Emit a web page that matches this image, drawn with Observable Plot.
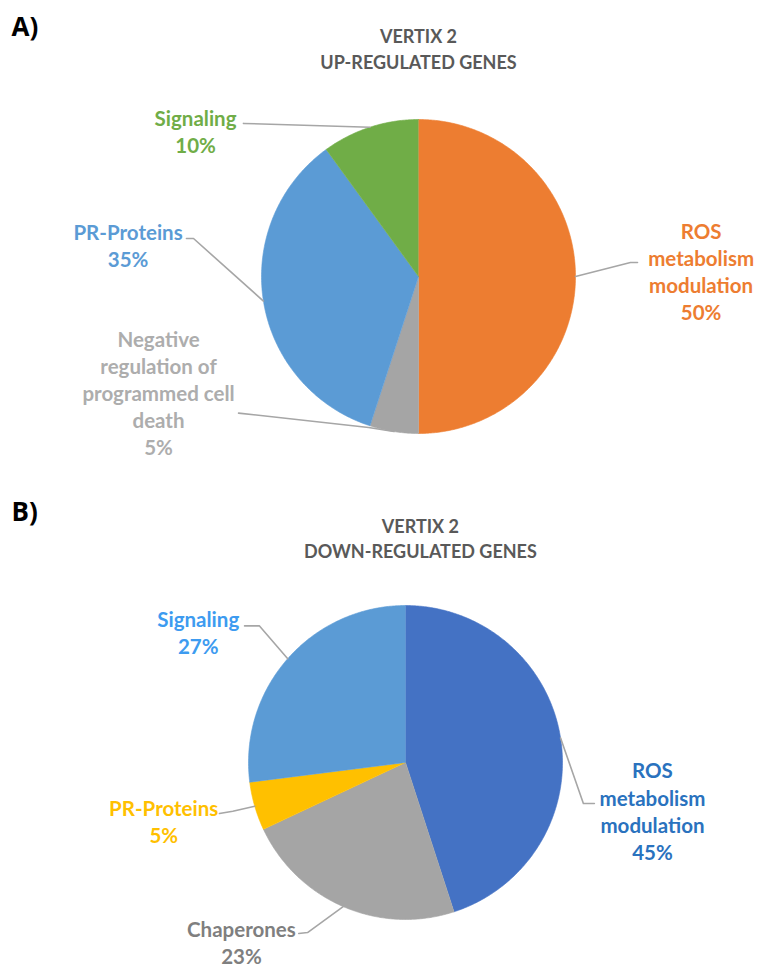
<!DOCTYPE html>
<html>
<head>
<meta charset="utf-8">
<script src="https://cdn.jsdelivr.net/npm/d3@7"></script>
<script src="https://cdn.jsdelivr.net/npm/@observablehq/plot@0.6"></script>
<style>
  body { margin: 0; background: #fff; width: 776px; }
  #chart svg { display: block; }
</style>
</head>
<body>
<div id="chart"></div>
<script>
// Panel A: up-regulated genes (slices clockwise from 12 o'clock)
const upCategories = ["ROS metabolism modulation", "Negative regulation of programmed cell death", "PR-Proteins", "Signaling"];
const upValues = [50, 5, 35, 10];
const upLabelLines = [["ROS", "metabolism", "modulation"], ["Negative", "regulation of", "programmed cell", "death"], ["PR-Proteins"], ["Signaling"]];

// Panel B: down-regulated genes
const downCategories = ["ROS metabolism modulation", "Chaperones", "PR-Proteins", "Signaling"];
const downValues = [45, 23, 5, 27];
const downLabelLines = [["ROS", "metabolism", "modulation"], ["Chaperones"], ["PR-Proteins"], ["Signaling"]];

const panelLetters = ["A)", "B)"];
const panelTitles = [["VERTIX 2", "UP-REGULATED GENES"], ["VERTIX 2", "DOWN-REGULATED GENES"]];

// Styling and layout (pie radius = 1 unit)
const panels = [
  {
    cats: upCategories, vals: upValues, lines: upLabelLines,
    fills: ["#ED7D31", "#A5A5A5", "#5B9BD5", "#70AD47"],
    text: ["#ED7D31", "#ADADAD", "#5B9BD5", "#70AD47"],
    cx: 418, cy: 276, r: 157,
    titleX: 0, titleY: 47.5,
    // label block centre and leader points (label end, elbow) in pie units
    label: [
      {x: 1.80, y: 0.035, lead: [[1.395, 0.089], [1.35, 0.089]]},
      {x: -1.656, y: -0.74, lead: [[-1.146, -0.87], [-0.318, -0.962]]},
      {x: -1.85, y: 0.20, lead: [[-1.478, 0.242], [-1.433, 0.242]]},
      {x: -1.42, y: 0.925, lead: [[-1.115, 0.975]]}
    ]
  },
  {
    cats: downCategories, vals: downValues, lines: downLabelLines,
    fills: ["#4472C4", "#A5A5A5", "#FFC000", "#5B9BD5"],
    text: ["#2A72BE", "#7F7F7F", "#FFC000", "#3D9BF0"],
    cx: 405, cy: 277, r: 157,
    titleX: 0.095, titleY: 52,
    label: [
      {x: 1.573, y: -0.305, lead: [[1.203, -0.261], [1.133, -0.261]]},
      {x: -1.045, y: -1.145, lead: [[-0.68, -1.089], [-0.624, -1.083]]},
      {x: -1.54, y: -0.37, lead: [[-1.185, -0.325], [-1.10, -0.31]]},
      {x: -1.32, y: 0.835, lead: [[-1.025, 0.87], [-0.93, 0.87]]}
    ]
  }
];

const W = 776, H = 485;
const labelFont = "Lato, 'Open Sans', sans-serif";

panels.forEach((p, pi) => {
  const arcs = d3.pie().sort(null).value(d => d)(p.vals);

  // polygon outline of each slice
  const slicePts = [];
  arcs.forEach((a, i) => {
    const n = Math.max(4, Math.ceil((a.endAngle - a.startAngle) / 0.01));
    slicePts.push({cat: p.cats[i], x: 0, y: 0});
    for (let k = 0; k <= n; k++) {
      const t = a.startAngle + (a.endAngle - a.startAngle) * k / n;
      slicePts.push({cat: p.cats[i], x: Math.sin(t), y: Math.cos(t)});
    }
  });

  const marks = [
    Plot.line(slicePts, {x: "x", y: "y", z: "cat", fill: "cat", stroke: "cat", strokeWidth: 0.6, curve: "linear"})
  ];

  arcs.forEach((a, i) => {
    const mid = (a.startAngle + a.endAngle) / 2;
    const L = p.label[i];
    const leader = [...L.lead.map(([x, y]) => ({x, y})), {x: Math.sin(mid), y: Math.cos(mid)}];
    marks.push(Plot.line(leader, {x: "x", y: "y", stroke: "#A6A6A6", strokeWidth: 1.6}));
    const txt = [...p.lines[i], `${p.vals[i]}%`].join("\n");
    marks.push(Plot.text([txt], {
      x: () => L.x, y: () => L.y, text: d => d,
      fill: p.text[i], fontSize: 20.5, fontWeight: 700, fontFamily: labelFont,
      lineHeight: 1.32, lineAnchor: "middle", textAnchor: "middle"
    }));
  });

  // panel letter and title
  marks.push(Plot.text([panelLetters[pi]], {
    frameAnchor: "top-left", text: d => d, dx: 11, dy: 17,
    fontSize: 26, fontWeight: 700, fill: "#000", fontFamily: "'Open Sans', sans-serif", textAnchor: "start"
  }));
  marks.push(Plot.text([panelTitles[pi].join("\n")], {
    x: () => p.titleX, frameAnchor: "top", dy: p.titleY, text: d => d,
    fontSize: 18, fontWeight: 700, fill: "#595959", fontFamily: labelFont,
    lineHeight: 1.4, lineAnchor: "middle", textAnchor: "middle"
  }));

  const chart = Plot.plot({
    width: W, height: H,
    margin: 0,
    x: {domain: [-1, 1], range: [p.cx - p.r, p.cx + p.r], axis: null},
    y: {domain: [-1, 1], range: [p.cy + p.r, p.cy - p.r], axis: null},
    color: {domain: p.cats, range: p.fills},
    style: {background: "#fff", overflow: "visible"},
    marks
  });
  document.getElementById("chart").appendChild(chart);
});
</script>
</body>
</html>
